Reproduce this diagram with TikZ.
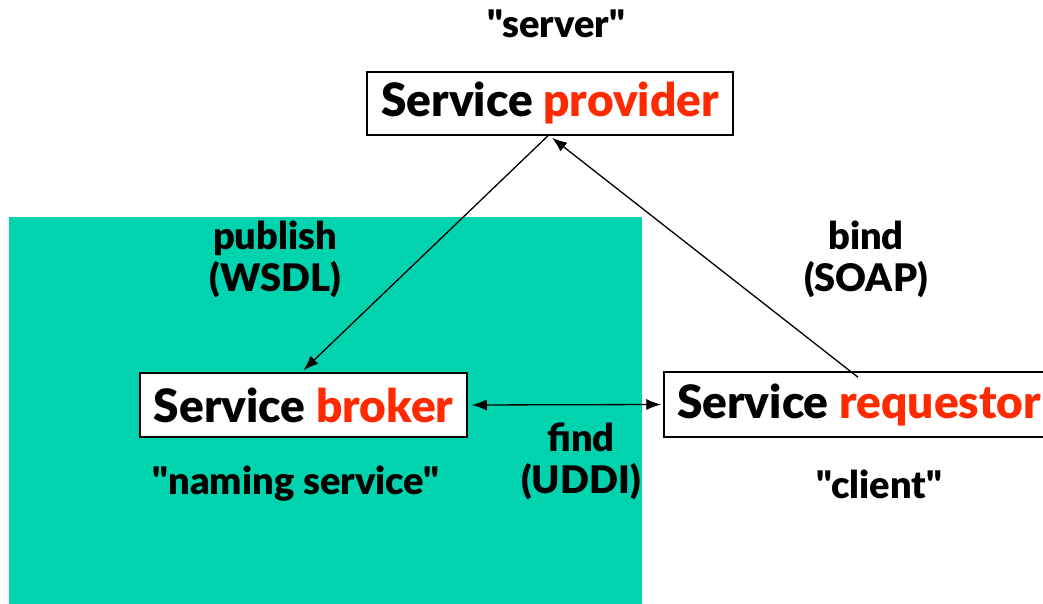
\documentclass[tikz,border=0pt]{standalone}
\usepackage{fontspec}
\setmainfont{Lato}[BoldFont={Lato Black}, Ligatures=TeXOff]
\usetikzlibrary{arrows.meta}
\definecolor{panel}{HTML}{00D3AD}
\definecolor{accent}{HTML}{FF2A00}
\newcommand{\qq}[1]{"#1"}
\tikzset{
  box/.style={draw=black, line width=1.5pt, fill=white, inner sep=0pt,
    font=\fontsize{46}{48}\selectfont\bfseries},
  lbl/.style={align=center, inner sep=0pt, font=\fontsize{38}{42}\selectfont\bfseries},
  link/.style={line width=1.3pt, -{Latex[length=15pt,width=11pt]}},
  twoway/.style={line width=1.3pt, {Latex[length=15pt,width=11pt]}-{Latex[length=15pt,width=11pt]}, shorten <=4pt, shorten >=2pt}
}
\begin{document}
\begin{tikzpicture}[x=1pt,y=-1pt]
\useasboundingbox (0,0) rectangle (1043,604);
% registry area
\fill[panel] (9,217) rectangle (642,606);

% the three roles
\node[box, minimum width=366pt, minimum height=63pt] (prov) at (550,103.5)
  {Service \textcolor{accent}{provider}};
\node[box, minimum width=327pt, minimum height=64pt] (brok) at (303.5,405)
  {Service \textcolor{accent}{broker}};
\node[box, minimum width=384pt, minimum height=65pt] (req) at (856,404.5)
  {\hspace*{6pt}Service \textcolor{accent}{requestor}};

% captions
\node[lbl] (srv) at (556,24) {\qq{server}};
\node[lbl] (pub) at (275,259) {publish\\(WSDL)};
\node[lbl] (bnd) at (866,259) {bind\\(SOAP)};
\node[lbl] (fnd) at (581,461) {find\\(UDDI)};
\node[lbl] (nam) at (296,484) {\qq{naming service}};
\node[lbl] (cli) at (879,484) {\qq{client}};

% interactions
\draw[link] ([xshift=-2pt]prov.south) -- ([yshift=2pt]brok.north);
\draw[link] ([xshift=2pt,yshift=-6pt]req.north) -- ([xshift=2pt,yshift=-2pt]prov.south);
\draw[twoway] (brok.east) -- (req.west);
\end{tikzpicture}
\end{document}
